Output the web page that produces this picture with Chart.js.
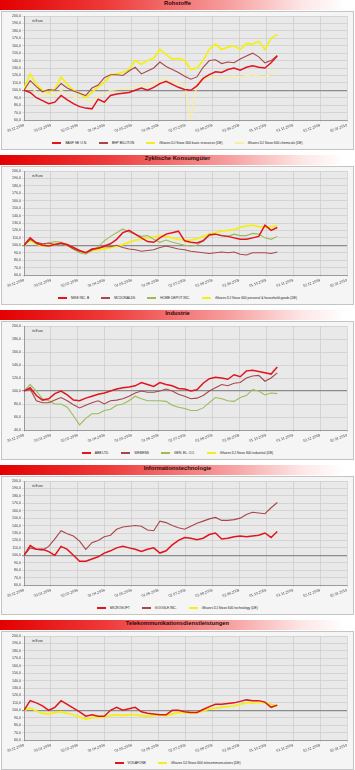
<!DOCTYPE html>
<html>
<head>
<meta charset="utf-8">
<script src="https://cdn.jsdelivr.net/npm/chart.js@4.4.0/dist/chart.umd.min.js"></script>
<style>
  body { margin: 0; width: 355px; height: 770px; background: #fff; position: relative; overflow: hidden; font-family: "Liberation Sans", Arial, sans-serif; }
  .panel { position: absolute; left: 0; width: 355px; height: 152px; }
  .head { position: absolute; left: 0; top: 0; width: 355px; height: 10px; line-height: 10.5px;
          background: linear-gradient(90deg, #e40000 0%, #ee3a3a 30%, #f7a0a0 65%, #fde6e6 85%, #fff 97%);
          font: bold 5.8px "Liberation Sans", Arial, sans-serif; color: #2a0a0a; text-align: center; }
  .frame { position: absolute; left: 1px; top: 10.5px; width: 351px; height: 137.5px; border: 1px solid #c4c4c4; background: #f5f5f5; }
  canvas { position: absolute; left: 0; top: 10px; }
  .unit { position: absolute; left: 32px; top: 19.3px; font-size: 3.4px; color: #333; }
  .legend { position: absolute; left: 0; top: 140.3px; width: 355px; height: 5px; display: flex; justify-content: center; align-items: center; gap: 12px;
            font: 3.3px "Liberation Sans", Arial, sans-serif; color: #222; white-space: nowrap; }
  .legend .s { display: inline-block; width: 9px; height: 1.3px; margin-right: 4px; vertical-align: middle; }
</style>
</head>
<body>
<script>
// x axis labels (one per month step)
const xTickLabels = ['30.12.2008', '30.01.2009', '02.03.2009', '01.04.2009', '01.05.2009', '01.06.2009',
  '02.07.2009', '02.08.2009', '02.09.2009', '01.10.2009', '01.11.2009', '02.12.2009', '02.01.2010'];

// weekly index values, 30.12.2008 = 100
const basf        = [100,97,90,86,82,84,93,87,82,78,76,75,88,84,93,95,96,97,100,103,100,104,109,112,108,104,101,100,106,116,121,125,124,128,130,127,131,133,131,130,137,146];
const bhp         = [100,113,105,98,101,100,109,103,99,96,93,103,107,117,121,121,120,126,131,122,126,130,138,132,128,124,119,115,118,131,140,141,136,138,137,142,146,150,145,137,140,147];
const isBasicRes  = [102,122,108,100,97,101,118,108,100,96,90,97,105,110,120,122,124,128,140,135,140,143,155,148,142,143,140,128,130,140,155,162,155,158,160,155,163,162,166,155,170,175];
const isChemicals = [100,104,98,93,92,94,100,95,91,88,86,85,92,95,100,101,102,103,106,108,106,109,113,115,112,110,108,60,109,114,118,117,116,118,119,117,120,121,119,118,122,126];

const nike        = [100,110,103,100,99,101,103,101,97,93,90,95,96,99,102,108,117,120,115,110,105,104,110,115,117,119,106,104,103,106,114,115,113,112,110,108,108,110,112,127,120,124];
const mcdonalds   = [100,108,104,102,103,101,102,100,95,92,90,94,96,98,98,100,97,95,94,92,93,94,97,99,97,95,94,92,91,90,89,90,91,90,91,88,87,90,90,90,89,91];
const homeDepot   = [100,108,102,100,103,105,104,100,95,90,88,93,98,106,112,117,122,118,115,112,113,108,104,107,104,102,100,99,100,106,115,115,113,112,115,113,113,116,115,110,108,112];
const isPersonal  = [100,106,102,99,100,101,103,100,97,93,90,93,94,95,97,99,101,104,107,108,110,111,113,112,110,108,107,107,109,112,115,117,119,120,121,124,126,127,125,124,125,126];

const abb         = [100,105,93,86,88,96,100,94,86,85,89,92,95,97,100,103,105,106,108,113,110,107,113,110,108,104,103,100,102,112,119,121,120,118,125,122,131,132,130,128,126,137];
const siemens     = [100,103,85,82,82,86,90,85,79,74,78,82,85,80,85,86,88,92,97,100,98,98,100,103,100,95,92,88,89,93,100,105,110,108,112,113,120,123,124,115,120,128];
const genEl       = [100,110,100,88,85,80,80,75,62,48,58,65,65,70,72,78,80,85,92,88,85,85,85,84,78,75,73,70,70,74,82,90,88,85,84,90,93,102,100,94,97,96];
const isIndustry  = [];

const microsoft   = [100,113,108,108,105,100,112,108,100,92,92,95,98,103,106,110,112,110,108,105,108,110,103,106,114,120,124,123,121,123,128,130,122,123,125,126,125,126,127,130,124,132];
const google      = [100,110,108,107,112,122,133,129,126,119,108,117,120,125,127,135,138,139,140,139,134,133,146,144,140,137,135,139,143,146,149,151,147,147,148,150,155,158,157,156,164,171];
const isTech      = [];

const vodafone    = [100,113,110,106,100,104,113,108,103,98,92,94,92,92,100,104,100,102,104,98,96,95,94,94,100,100,98,97,97,101,105,108,108,109,110,112,114,113,113,111,104,107];
const isTelecom   = [100,103,99,96,95,97,98,96,94,91,88,90,90,91,93,94,93,94,94,93,92,93,94,93,95,97,97,96,97,99,102,103,104,105,106,108,110,110,111,110,108,106];

const RED = '#e2141c', BROWN = '#a9464a', YELLOW = '#f2ef1c', PALE = '#f6eea2', GREEN = '#9bbb59';

const panels = [
  { title: 'Rohstoffe', yMin: 60, series: [
    { label: 'BASF SE O.N.', values: basf, color: RED, width: 1.5 },
    { label: 'BHP BILLITON', values: bhp, color: BROWN, width: 1.1 },
    { label: 'iShares DJ Stoxx 600 basic resources (DE)', values: isBasicRes, color: YELLOW, width: 1.8 },
    { label: 'iShares DJ Stoxx 600 chemicals (DE)', values: isChemicals, color: PALE, width: 1.3 } ] },
  { title: 'Zyklische Konsumgüter', yMin: 60, series: [
    { label: 'NIKE INC. B', values: nike, color: RED, width: 1.5 },
    { label: 'MCDONALDS', values: mcdonalds, color: BROWN, width: 1.1 },
    { label: 'HOME DEPOT INC.', values: homeDepot, color: GREEN, width: 1.1 },
    { label: 'iShares DJ Stoxx 600 personal & household goods (DE)', values: isPersonal, color: YELLOW, width: 1.8 } ] },
  { title: 'Industrie', yMin: 40, series: [
    { label: 'ABB LTD.', values: abb, color: RED, width: 1.5 },
    { label: 'SIEMENS', values: siemens, color: BROWN, width: 1.1 },
    { label: 'GEN. EL. CO.', values: genEl, color: GREEN, width: 1.1 },
    { label: 'iShares DJ Stoxx 600 industrial (DE)', values: isIndustry, color: YELLOW, width: 1.8 } ] },
  { title: 'Informationstechnologie', yMin: 60, series: [
    { label: 'MICROSOFT', values: microsoft, color: RED, width: 1.5 },
    { label: 'GOOGLE INC.', values: google, color: BROWN, width: 1.1 },
    { label: 'iShares DJ Stoxx 600 technology (DE)', values: isTech, color: YELLOW, width: 1.8 } ] },
  { title: 'Telekommunikationsdienstleistungen', yMin: 60, series: [
    { label: 'VODAFONE', values: vodafone, color: RED, width: 1.5 },
    { label: 'iShares DJ Stoxx 600 telecommunications (DE)', values: isTelecom, color: YELLOW, width: 1.8 } ] }
];

const MONTH = 30.5;
const tickFont = { family: 'Liberation Sans', size: 3.6 };

const plotBg = {
  id: 'plotBg',
  beforeDraw(chart) {
    const { ctx, chartArea: a } = chart;
    ctx.save();
    ctx.fillStyle = '#e9e9e9';
    ctx.fillRect(a.left, a.top, a.right - a.left, a.bottom - a.top);
    ctx.restore();
  }
};

panels.forEach((p, i) => {
  const box = document.createElement('div');
  box.className = 'panel';
  box.style.top = (155 * i) + 'px';
  box.innerHTML = '<div class="frame"></div><div class="head">' + p.title + '</div>';
  const canvas = document.createElement('canvas');
  canvas.width = 355; canvas.height = 130;
  box.appendChild(canvas);

  const unit = document.createElement('div');
  unit.className = 'unit';
  unit.textContent = 'in Euro';
  box.appendChild(unit);

  const legend = document.createElement('div');
  legend.className = 'legend';
  p.series.forEach(s => {
    const item = document.createElement('div');
    item.innerHTML = '<span class="s" style="background:' + s.color + '"></span>' + s.label.replace(/&/g, '&amp;');
    legend.appendChild(item);
  });
  box.appendChild(legend);
  document.body.appendChild(box);

  new Chart(canvas, {
    type: 'line',
    data: {
      datasets: p.series.map(s => ({
        label: s.label,
        data: s.values.map((v, k) => ({ x: k * 7, y: v })),
        borderColor: s.color,
        borderWidth: s.width,
        pointRadius: 0,
        tension: 0
      }))
    },
    options: {
      responsive: false,
      animation: false,
      layout: { padding: { top: 6, right: 8, left: 0, bottom: 0 } },
      plugins: { legend: { display: false }, tooltip: { enabled: false } },
      scales: {
        x: {
          type: 'linear', min: 0, max: 12 * MONTH,
          afterBuildTicks: s => { s.ticks = xTickLabels.map((_, k) => ({ value: k * MONTH })); },
          afterFit: s => { s.height = 20; s.paddingLeft = 0; s.paddingRight = 0; },
          ticks: { autoSkip: false, minRotation: 20, maxRotation: 20, padding: 1, font: tickFont, color: '#404040',
                   callback: (v, k) => xTickLabels[k] },
          grid: { color: '#c6c6c6', lineWidth: 0.6, tickLength: 2 },
          border: { color: '#8a8a8a', width: 0.8 }
        },
        y: {
          min: p.yMin, max: 200,
          afterBuildTicks: s => { const t = []; for (let v = p.yMin; v <= 200; v += 10) t.push({ value: v }); s.ticks = t; },
          afterFit: s => { s.width = 24; },
          ticks: { padding: 1, font: tickFont, color: '#404040', callback: v => v.toFixed(1).replace('.', ',') },
          grid: { color: c => (c.tick && c.tick.value === 100) ? '#8c8c8c' : '#c6c6c6',
                  lineWidth: c => (c.tick && c.tick.value === 100) ? 1.2 : 0.6, tickLength: 2 },
          border: { color: '#8a8a8a', width: 0.8 }
        }
      }
    },
    plugins: [plotBg]
  });
});
</script>
</body>
</html>
